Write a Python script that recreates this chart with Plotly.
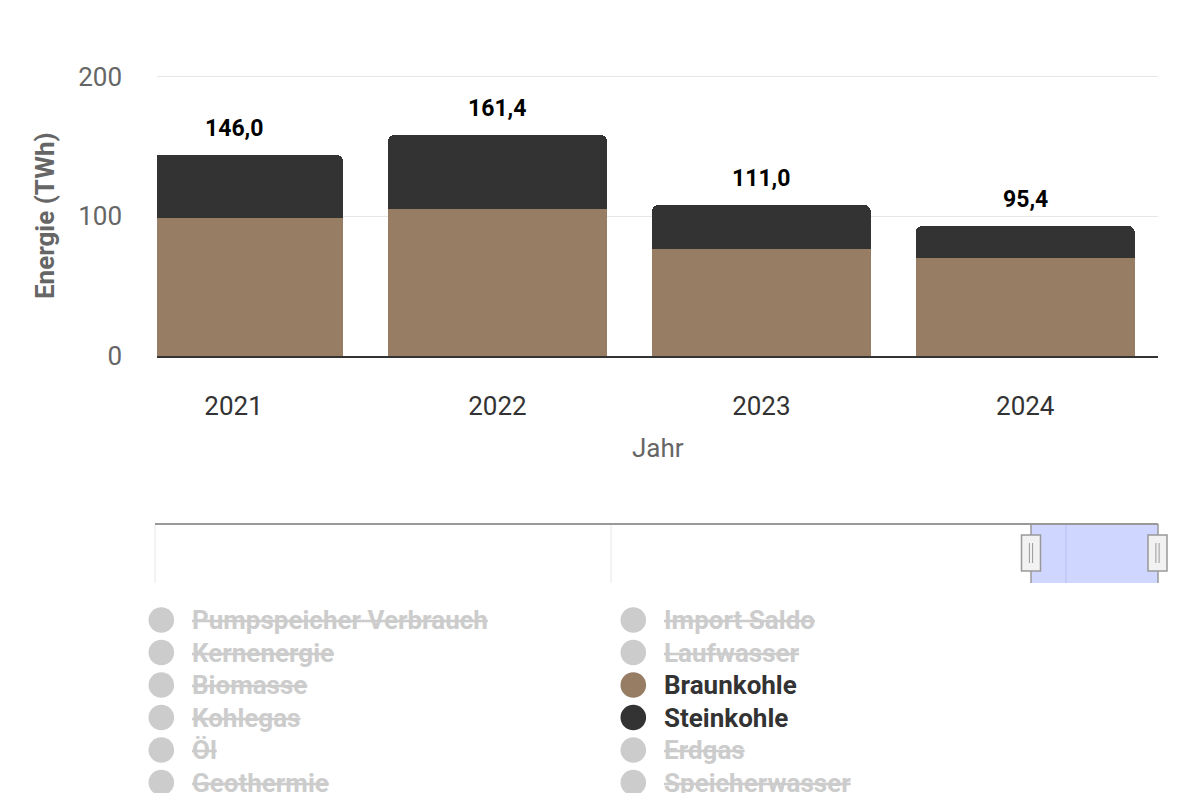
import plotly.graph_objects as go

# ---------------- data ----------------
years = ["2021", "2022", "2023", "2024"]
braunkohle = [98.7, 105.2, 76.6, 70.1]
steinkohle = [45.1, 52.9, 31.4, 22.9]
total_labels = ["146,0", "161,4", "111,0", "95,4"]
y_ticks = [0, 100, 200]

legend_names = [
    "Pumpspeicher Verbrauch", "Import Saldo",
    "Kernenergie", "Laufwasser",
    "Biomasse", "Braunkohle",
    "Kohlegas", "Steinkohle",
    "Öl", "Erdgas",
    "Geothermie", "Speicherwasser",
]
legend_active = [False, False, False, False, False, True,
                 False, True, False, False, False, False]
legend_colors = {"Braunkohle": "#967d64", "Steinkohle": "#333333"}

# ---------------- helpers ----------------
W, H = 1200, 793
OFF = 8  # page body margin


def px(x):
    return (x - OFF) / W


def py(y):
    return 1 - (y - OFF) / H


fig = go.Figure()
fig.add_bar(x=years, y=braunkohle, name="Braunkohle", width=0.829,
            marker=dict(color=legend_colors["Braunkohle"], line=dict(width=0)),
            showlegend=False)
fig.add_bar(x=years, y=steinkohle, name="Steinkohle", width=0.829,
            marker=dict(color=legend_colors["Steinkohle"], line=dict(width=0)),
            showlegend=False)

totals = [b + s for b, s in zip(braunkohle, steinkohle)]
annotations = []
for i, (t, lab) in enumerate(zip(totals, total_labels)):
    annotations.append(dict(x=i, y=t, xref="x", yref="y", text=lab,
                            showarrow=False, yanchor="middle", yshift=27,
                            font=dict(size=23, color="#000000", family="Roboto", weight="bold")))

# axis titles
annotations.append(dict(x=px(45), y=py(216), xref="paper", yref="paper",
                        text="Energie (TWh)", textangle=-90, showarrow=False,
                        xanchor="center", yanchor="middle",
                        font=dict(size=26, color="#666666", family="Roboto", weight="bold")))
annotations.append(dict(x=px(658), y=py(448), xref="paper", yref="paper",
                        text="Jahr", showarrow=False, xanchor="center", yanchor="middle",
                        font=dict(size=26, color="#666666", family="Roboto")))

shapes = []
# legend
row_y = [620, 652.5, 685, 717.5, 750, 782.5]
col_circle_x = [161.3, 633.3]
col_text_x = [190, 662]
r = 12.8
for i, (name, active) in enumerate(zip(legend_names, legend_active)):
    row, col = divmod(i, 2)
    cy = row_y[row]
    cx = col_circle_x[col]
    color = legend_colors.get(name, "#cccccc") if active else "#cccccc"
    shapes.append(dict(type="circle", xref="paper", yref="paper",
                       x0=px(cx - r), x1=px(cx + r), y0=py(cy + r), y1=py(cy - r),
                       fillcolor=color, line=dict(width=0)))
    f = dict(size=26, family="Roboto", weight="bold",
             color="#333333" if active else "#cccccc")
    if not active:
        f["lineposition"] = "through"
    annotations.append(dict(x=px(col_text_x[col]), y=py(cy), xref="paper", yref="paper",
                            text=name, showarrow=False, xanchor="left", yanchor="middle",
                            font=f))

# navigator
nav_top, nav_bot = 524, 583
for gx in [155, 611]:
    shapes.append(dict(type="line", xref="paper", yref="paper",
                       x0=px(gx), x1=px(gx), y0=py(nav_top), y1=py(nav_bot),
                       line=dict(color="#e6e6e6", width=1)))
shapes.append(dict(type="rect", xref="paper", yref="paper",
                   x0=px(1031), x1=px(1158), y0=py(nav_bot), y1=py(nav_top),
                   fillcolor="rgb(207,214,255)", line=dict(width=0)))
shapes.append(dict(type="line", xref="paper", yref="paper",
                   x0=px(1066), x1=px(1066), y0=py(nav_top), y1=py(nav_bot),
                   line=dict(color="#b7bfee", width=1)))
shapes.append(dict(type="line", xref="paper", yref="paper",
                   x0=px(155), x1=px(1158), y0=py(nav_top), y1=py(nav_top),
                   line=dict(color="#999999", width=2)))
for ex in [1031, 1158]:
    shapes.append(dict(type="line", xref="paper", yref="paper",
                       x0=px(ex), x1=px(ex), y0=py(nav_top), y1=py(nav_bot),
                       line=dict(color="#999999", width=1.5)))
for hx in [1031, 1157.5]:
    shapes.append(dict(type="rect", xref="paper", yref="paper",
                       x0=px(hx - 9.5), x1=px(hx + 9.5), y0=py(571), y1=py(535),
                       fillcolor="#f2f2f2", line=dict(color="#999999", width=1.5)))
    for dx in [-1.6, 1.6]:
        shapes.append(dict(type="line", xref="paper", yref="paper",
                           x0=px(hx + dx), x1=px(hx + dx), y0=py(543), y1=py(563),
                           line=dict(color="#999999", width=1)))

# plot area: value 0 at y=356, value 200 at y=76.5 -> extend range slightly so the 200 grid shows
ppu = (356 - 76.5) / 200.0
y_top_val = 201.0
fig.update_layout(
    width=W, height=H,
    margin=dict(l=0, r=0, t=0, b=0),
    paper_bgcolor="white", plot_bgcolor="white",
    barmode="stack", barcornerradius=6,
    font=dict(family="Roboto", color="#333333"),
    showlegend=False,
    annotations=annotations,
    shapes=shapes,
    xaxis=dict(type="category", domain=[px(157), px(1158)], range=[-0.29, 3.503],
               showgrid=False, showline=True, linecolor="#333333", linewidth=1.5,
               ticks="", tickfont=dict(size=26, color="#333333"),
               ticklabelstandoff=26, automargin=False, fixedrange=True),
    yaxis=dict(domain=[py(356), py(356 - y_top_val * ppu)], range=[0, y_top_val], tickvals=y_ticks,
               showgrid=True, gridcolor="#e6e6e6", gridwidth=1, zeroline=False,
               showline=False, ticks="", tickfont=dict(size=26, color="#666666"),
               ticklabelstandoff=34, automargin=False, fixedrange=True),
)

fig.write_html("out.html")
